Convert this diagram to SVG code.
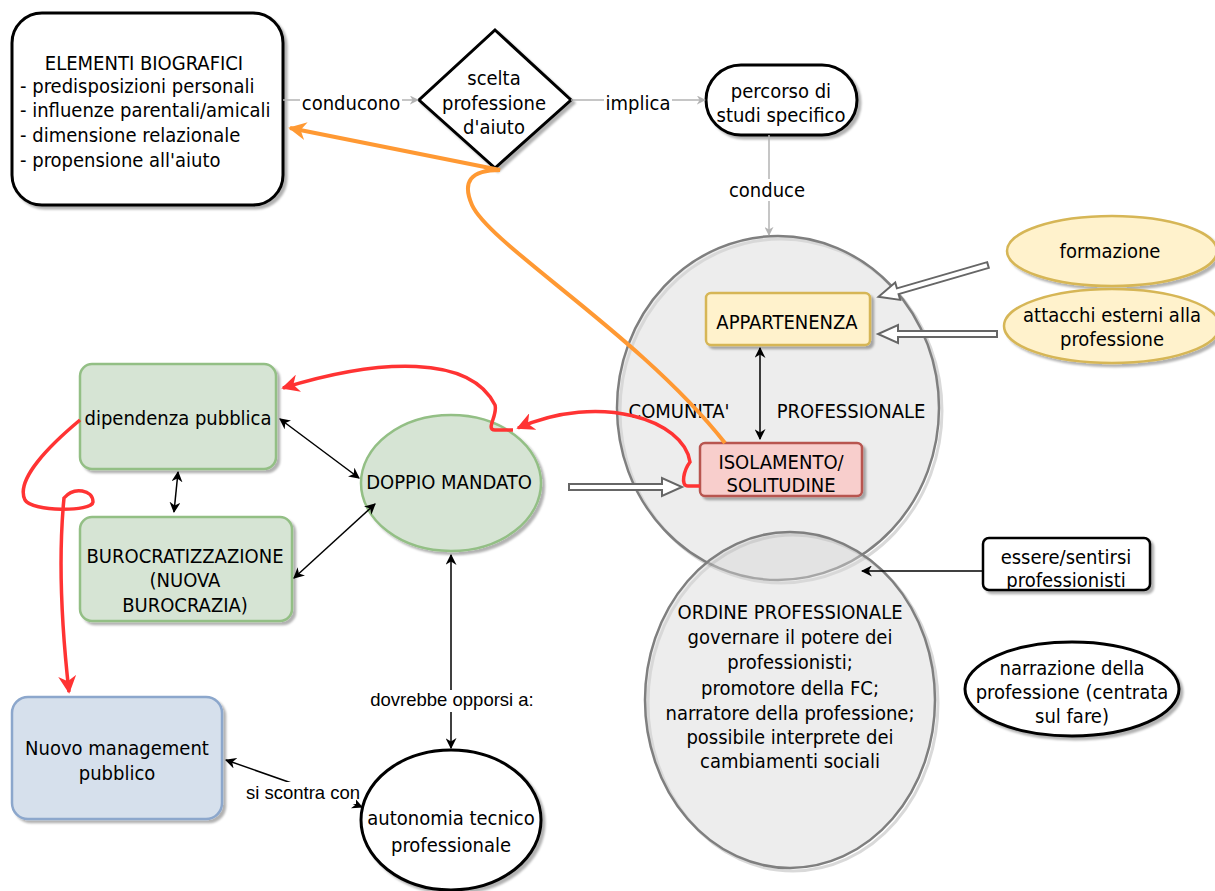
<svg xmlns="http://www.w3.org/2000/svg" width="1215" height="891" viewBox="0 0 1215 891">
<defs>
<style>
text{font-family:"DejaVu Sans Condensed","DejaVu Sans",sans-serif;font-size:20px;fill:#000}
.c{text-anchor:middle}
.lbl{font-family:"Liberation Sans",Arial,sans-serif;font-size:18.5px;text-anchor:middle}
.gray{stroke:#b3b3b3;stroke-width:1.5;fill:none}
.blk{stroke:#000;stroke-width:1.5;fill:none}
.flex{fill:#fff;stroke:#666;stroke-width:2}
.grn{fill:#d6e4d4;stroke:#93bf85;stroke-width:2.5}
.big{fill:#d6d6d6;fill-opacity:0.45;stroke:#7f7f7f;stroke-width:2.5}
.bigsh{fill:none;stroke:#000;stroke-opacity:0.15;stroke-width:3}
</style>
<filter id="sh" x="-10%" y="-10%" width="130%" height="130%">
<feDropShadow dx="3" dy="3" stdDeviation="1.2" flood-color="#000" flood-opacity="0.3"/>
</filter>
<marker id="ag" viewBox="0 0 10 10" refX="9" refY="5" markerWidth="9" markerHeight="9" markerUnits="userSpaceOnUse" orient="auto">
<path d="M0,0 L10,5 L0,10 L3,5 z" fill="#b3b3b3"/>
</marker>
<marker id="ab" viewBox="0 0 10 10" refX="9" refY="5" markerWidth="11" markerHeight="11" markerUnits="userSpaceOnUse" orient="auto-start-reverse">
<path d="M0,0 L10,5 L0,10 L3,5 z" fill="#000"/>
</marker>
<marker id="ar" viewBox="0 0 10 10" refX="9" refY="5" markerWidth="18" markerHeight="18" markerUnits="userSpaceOnUse" orient="auto">
<path d="M0,0 L10,5 L0,10 L3,5 z" fill="#ff3333"/>
</marker>
<marker id="ao" viewBox="0 0 10 10" refX="9" refY="5" markerWidth="18" markerHeight="18" markerUnits="userSpaceOnUse" orient="auto">
<path d="M0,0 L10,5 L0,10 L3,5 z" fill="#ff9933"/>
</marker>
</defs>
<rect width="1215" height="891" fill="#fff"/>

<g id="comunita">
<ellipse class="bigsh" cx="781" cy="411" rx="161" ry="172"/>
<ellipse class="big" cx="778" cy="408" rx="161" ry="172"/>
<text class="c" x="679" y="418">COMUNITA'</text>
<text class="c" x="851" y="418">PROFESSIONALE</text>
</g>
<g id="ordine">
<ellipse class="bigsh" cx="793" cy="703" rx="145" ry="168"/>
<ellipse class="big" cx="790" cy="700" rx="145" ry="168"/>
<text class="c" x="790" y="619">ORDINE PROFESSIONALE</text>
<text class="c" x="790" y="644">governare il potere dei</text>
<text class="c" x="790" y="669">professionisti;</text>
<text class="c" x="790" y="695">promotore della FC;</text>
<text class="c" x="790" y="720">narratore della professione;</text>
<text class="c" x="790" y="744">possibile interprete dei</text>
<text class="c" x="790" y="768">cambiamenti sociali</text>
</g>

<g id="elementi">
<rect x="12" y="13" width="271" height="192" rx="30" fill="#fff" stroke="#000" stroke-width="3" filter="url(#sh)"/>
<text class="c" x="144" y="70">ELEMENTI BIOGRAFICI</text>
<text x="20" y="93">- predisposizioni personali</text>
<text x="20" y="117">- influenze parentali/amicali</text>
<text x="20" y="142">- dimensione relazionale</text>
<text x="20" y="167">- propensione all'aiuto</text>
</g>
<g id="scelta">
<polygon points="495,30 571,100 495,168 419,100" fill="#fff" stroke="#000" stroke-width="3" filter="url(#sh)"/>
<text class="c" x="494" y="85">scelta</text>
<text class="c" x="494" y="110">professione</text>
<text class="c" x="494" y="134">d'aiuto</text>
</g>
<g id="percorso">
<rect x="706" y="65" width="151" height="70" rx="35" fill="#fff" stroke="#000" stroke-width="3" filter="url(#sh)"/>
<text class="c" x="781" y="98">percorso di</text>
<text class="c" x="781" y="122">studi specifico</text>
</g>
<g id="appartenenza">
<rect x="706" y="293" width="164" height="52" rx="5" fill="#fff2cc" stroke="#d6b656" stroke-width="2.5" filter="url(#sh)"/>
<text class="c" x="787" y="329">APPARTENENZA</text>
</g>
<g id="isolamento">
<rect x="700" y="443" width="162" height="53" rx="5" fill="#f8cecc" stroke="#b85450" stroke-width="2.5" filter="url(#sh)"/>
<text class="c" x="781" y="469">ISOLAMENTO/</text>
<text class="c" x="781" y="492">SOLITUDINE</text>
</g>
<g id="formazione">
<ellipse cx="1112" cy="251" rx="105" ry="35" fill="#fff2cc" stroke="#d6b656" stroke-width="2.5" filter="url(#sh)"/>
<text class="c" x="1110" y="258">formazione</text>
</g>
<g id="attacchi">
<ellipse cx="1112" cy="326" rx="108" ry="37" fill="#fff2cc" stroke="#d6b656" stroke-width="2.5" filter="url(#sh)"/>
<text class="c" x="1112" y="322">attacchi esterni alla</text>
<text class="c" x="1112" y="346">professione</text>
</g>
<g id="dipendenza">
<rect class="grn" x="80" y="364" width="196" height="105" rx="12" filter="url(#sh)"/>
<text class="c" x="178" y="425">dipendenza pubblica</text>
</g>
<g id="burocratizzazione">
<rect class="grn" x="80" y="517" width="212" height="104" rx="12" filter="url(#sh)"/>
<text class="c" x="185" y="563">BUROCRATIZZAZIONE</text>
<text class="c" x="185" y="587">(NUOVA</text>
<text class="c" x="185" y="612">BUROCRAZIA)</text>
</g>
<g id="doppio">
<ellipse class="grn" cx="451" cy="483" rx="90" ry="68" filter="url(#sh)"/>
<text class="c" x="449" y="489">DOPPIO MANDATO</text>
</g>
<g id="nuovo">
<rect x="12" y="697" width="210" height="122" rx="16" fill="#d6e0ec" stroke="#8ca7cc" stroke-width="2.5" filter="url(#sh)"/>
<text class="c" x="117" y="755">Nuovo management</text>
<text class="c" x="117" y="780">pubblico</text>
</g>
<g id="autonomia">
<ellipse cx="451" cy="820" rx="90" ry="70" fill="#fff" stroke="#000" stroke-width="3" filter="url(#sh)"/>
<text class="c" x="451" y="825">autonomia tecnico</text>
<text class="c" x="451" y="852">professionale</text>
</g>
<g id="essere">
<rect x="983" y="538" width="167" height="52" rx="6" fill="#fff" stroke="#000" stroke-width="2.5" filter="url(#sh)"/>
<text class="c" x="1066" y="564">essere/sentirsi</text>
<text class="c" x="1066" y="587">professionisti</text>
</g>
<g id="narrazione">
<ellipse cx="1072" cy="689" rx="107" ry="47" fill="#fff" stroke="#000" stroke-width="3" filter="url(#sh)"/>
<text class="c" x="1072" y="675">narrazione della</text>
<text class="c" x="1072" y="699">professione (centrata</text>
<text class="c" x="1072" y="723">sul fare)</text>
</g>

<g id="connectors">
<line class="gray" x1="283" y1="100" x2="418" y2="100" marker-end="url(#ag)"/>
<rect x="300" y="91" width="102" height="22" fill="#fff"/>
<text class="c" x="351" y="110">conducono</text>
<line class="gray" x1="571" y1="100" x2="705" y2="100" marker-end="url(#ag)"/>
<rect x="604" y="91" width="68" height="22" fill="#fff"/>
<text class="c" x="638" y="110">implica</text>
<line class="gray" x1="769" y1="135" x2="769" y2="235" marker-end="url(#ag)"/>
<rect x="728" y="179" width="80" height="22" fill="#fff"/>
<text class="c" x="767" y="197">conduce</text>

<line class="blk" x1="760" y1="348" x2="760" y2="439" marker-start="url(#ab)" marker-end="url(#ab)"/>
<line class="blk" x1="280" y1="419" x2="359" y2="478" marker-start="url(#ab)" marker-end="url(#ab)"/>
<line class="blk" x1="294" y1="578" x2="375" y2="504" marker-start="url(#ab)" marker-end="url(#ab)"/>
<line class="blk" x1="178" y1="472" x2="174" y2="512" marker-start="url(#ab)" marker-end="url(#ab)"/>
<line class="blk" x1="451" y1="555" x2="451" y2="748" marker-start="url(#ab)" marker-end="url(#ab)"/>
<rect x="366" y="690" width="172" height="22" fill="#fff"/>
<text class="lbl" x="452" y="706">dovrebbe opporsi a:</text>
<path class="blk" d="M362,807 L345,800 L300,786 L226,760" marker-start="url(#ab)" marker-end="url(#ab)"/>
<rect x="246" y="782" width="110" height="22" fill="#fff"/>
<text class="lbl" x="303" y="799">si scontra con</text>
<line class="blk" x1="983" y1="571" x2="862" y2="571" marker-end="url(#ab)"/>

<polygon class="flex" points="0,-3 94,-3 94,-9 114,0 94,9 94,3 0,3" transform="translate(988,265) rotate(163.8)"/>
<polygon class="flex" points="0,-3 99,-3 99,-9 119,0 99,9 99,3 0,3" transform="translate(997,334) rotate(180)"/>
<polygon class="flex" points="0,-3 93,-3 93,-9 113,0 93,9 93,3 0,3" transform="translate(569,487)"/>

<path d="M725,443 C640,335 490,245 472,205 C462,182 470,170 500,170 L290,128" fill="none" stroke="#ff9933" stroke-width="4" marker-end="url(#ao)"/>
<path d="M700,486 L688,486 C680,486 684,470 690,462 C684,420 600,392 518,428" fill="none" stroke="#ff3333" stroke-width="3.5" marker-end="url(#ar)"/>
<path d="M513,430 L495,430 C485,430 498,415 495,405 C470,355 380,358 283,388" fill="none" stroke="#ff3333" stroke-width="3.5" marker-end="url(#ar)"/>
<path d="M80,420 C50,445 15,480 25,500 C32,512 92,512 93,502 C93,490 74,486 64,498 C58,560 62,630 69,692" fill="none" stroke="#ff3333" stroke-width="3.5" marker-end="url(#ar)"/>
</g>
</svg>
